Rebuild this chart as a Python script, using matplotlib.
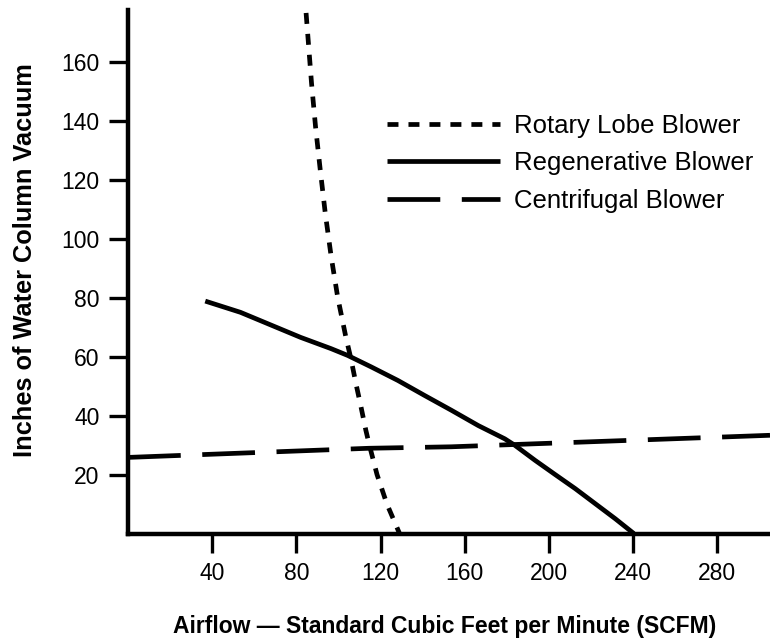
import matplotlib
matplotlib.use("Agg")
import matplotlib.pyplot as plt

plt.rcParams['font.family'] = ['Liberation Sans', 'DejaVu Sans']
plt.rcParams['lines.scale_dashes'] = False

# ---- data ----
rotary_x = [84.6, 87.2, 89.1, 91.3, 93.7, 96.5, 99.6, 103.5, 105.9, 108.3,
            110.7, 113, 114.7, 118.3, 123, 129]
rotary_y = [176.5, 152.6, 137.9, 123.5, 108.7, 94.0, 80.2, 66.6, 59.3, 50.8,
            42.9, 35, 29.9, 20, 10, 0]

regen_x = [36.7, 53.4, 82, 96.4, 104.3, 115.5, 128.2, 140.9, 153.6, 166.4,
           179, 183.8, 193.4, 202.9, 212.5, 222, 231.5, 240.3]
regen_y = [78.8, 75, 66.5, 62.7, 60.4, 56.5, 51.9, 46.8, 41.8, 36.6,
           32.1, 29.9, 24.8, 20.0, 15.2, 10.1, 5.0, 0]

centri_x = [0, 114.5, 153.6, 305]
centri_y = [25.8, 28.9, 29.4, 33.3]

x_ticks = [40, 80, 120, 160, 200, 240, 280]
y_ticks = [20, 40, 60, 80, 100, 120, 140, 160]

labels = ["Rotary Lobe Blower", "Regenerative Blower", "Centrifugal Blower"]
x_label = "Airflow \u2014 Standard Cubic Feet per Minute (SCFM)"
y_label = "Inches of Water Column Vacuum"

# ---- figure ----
W, H = 770, 639
fig = plt.figure(figsize=(W / 100, H / 100), dpi=100)
ax = fig.add_axes([128 / W, (H - 533.5) / H, (W - 128) / W, (533.5 - 10) / H])
ax.set_xlim(0, 305)
ax.set_ylim(0, 177.5)

lw = 3.4
l1, = ax.plot(rotary_x, rotary_y, color='black', lw=lw, linestyle=(0, (7.9, 7.2)),
              dash_capstyle='butt', label=labels[0])
l2, = ax.plot(regen_x, regen_y, color='black', lw=lw, solid_capstyle='butt',
              solid_joinstyle='round', label=labels[1])
l3, = ax.plot(centri_x, centri_y, color='black', lw=lw, linestyle=(0, (38, 15.5)),
              dash_capstyle='butt', label=labels[2])

for s in ['top', 'right']:
    ax.spines[s].set_visible(False)
for s in ['left', 'bottom']:
    ax.spines[s].set_linewidth(3.2)
    ax.spines[s].set_capstyle('projecting')

ax.set_xticks(x_ticks)
ax.set_yticks(y_ticks)
ax.tick_params(axis='both', direction='out', length=13.5, width=2.4,
               labelsize=16.5, color='black')
ax.tick_params(axis='x', pad=7)
ax.tick_params(axis='y', pad=7)

ax.set_xlabel(x_label, fontsize=16.5, fontweight='bold', va='baseline')
ax.xaxis.set_label_coords((445 - 128) / 642, (533 - 632) / 523)
ax.set_ylabel(y_label, fontsize=18.3, fontweight='bold', va='center')
ax.yaxis.set_label_coords((25 - 128) / 642, (533 - 260) / 523)

leg = ax.legend(handles=[l1, l2, l3], loc='upper left',
                bbox_to_anchor=(387 / W, (H - 114) / H),
                bbox_transform=fig.transFigure, frameon=False,
                fontsize=18.5, handlelength=4.4, handletextpad=0.56,
                borderpad=0, borderaxespad=0, labelspacing=0.52)

fig.savefig("out.png", dpi=100)
